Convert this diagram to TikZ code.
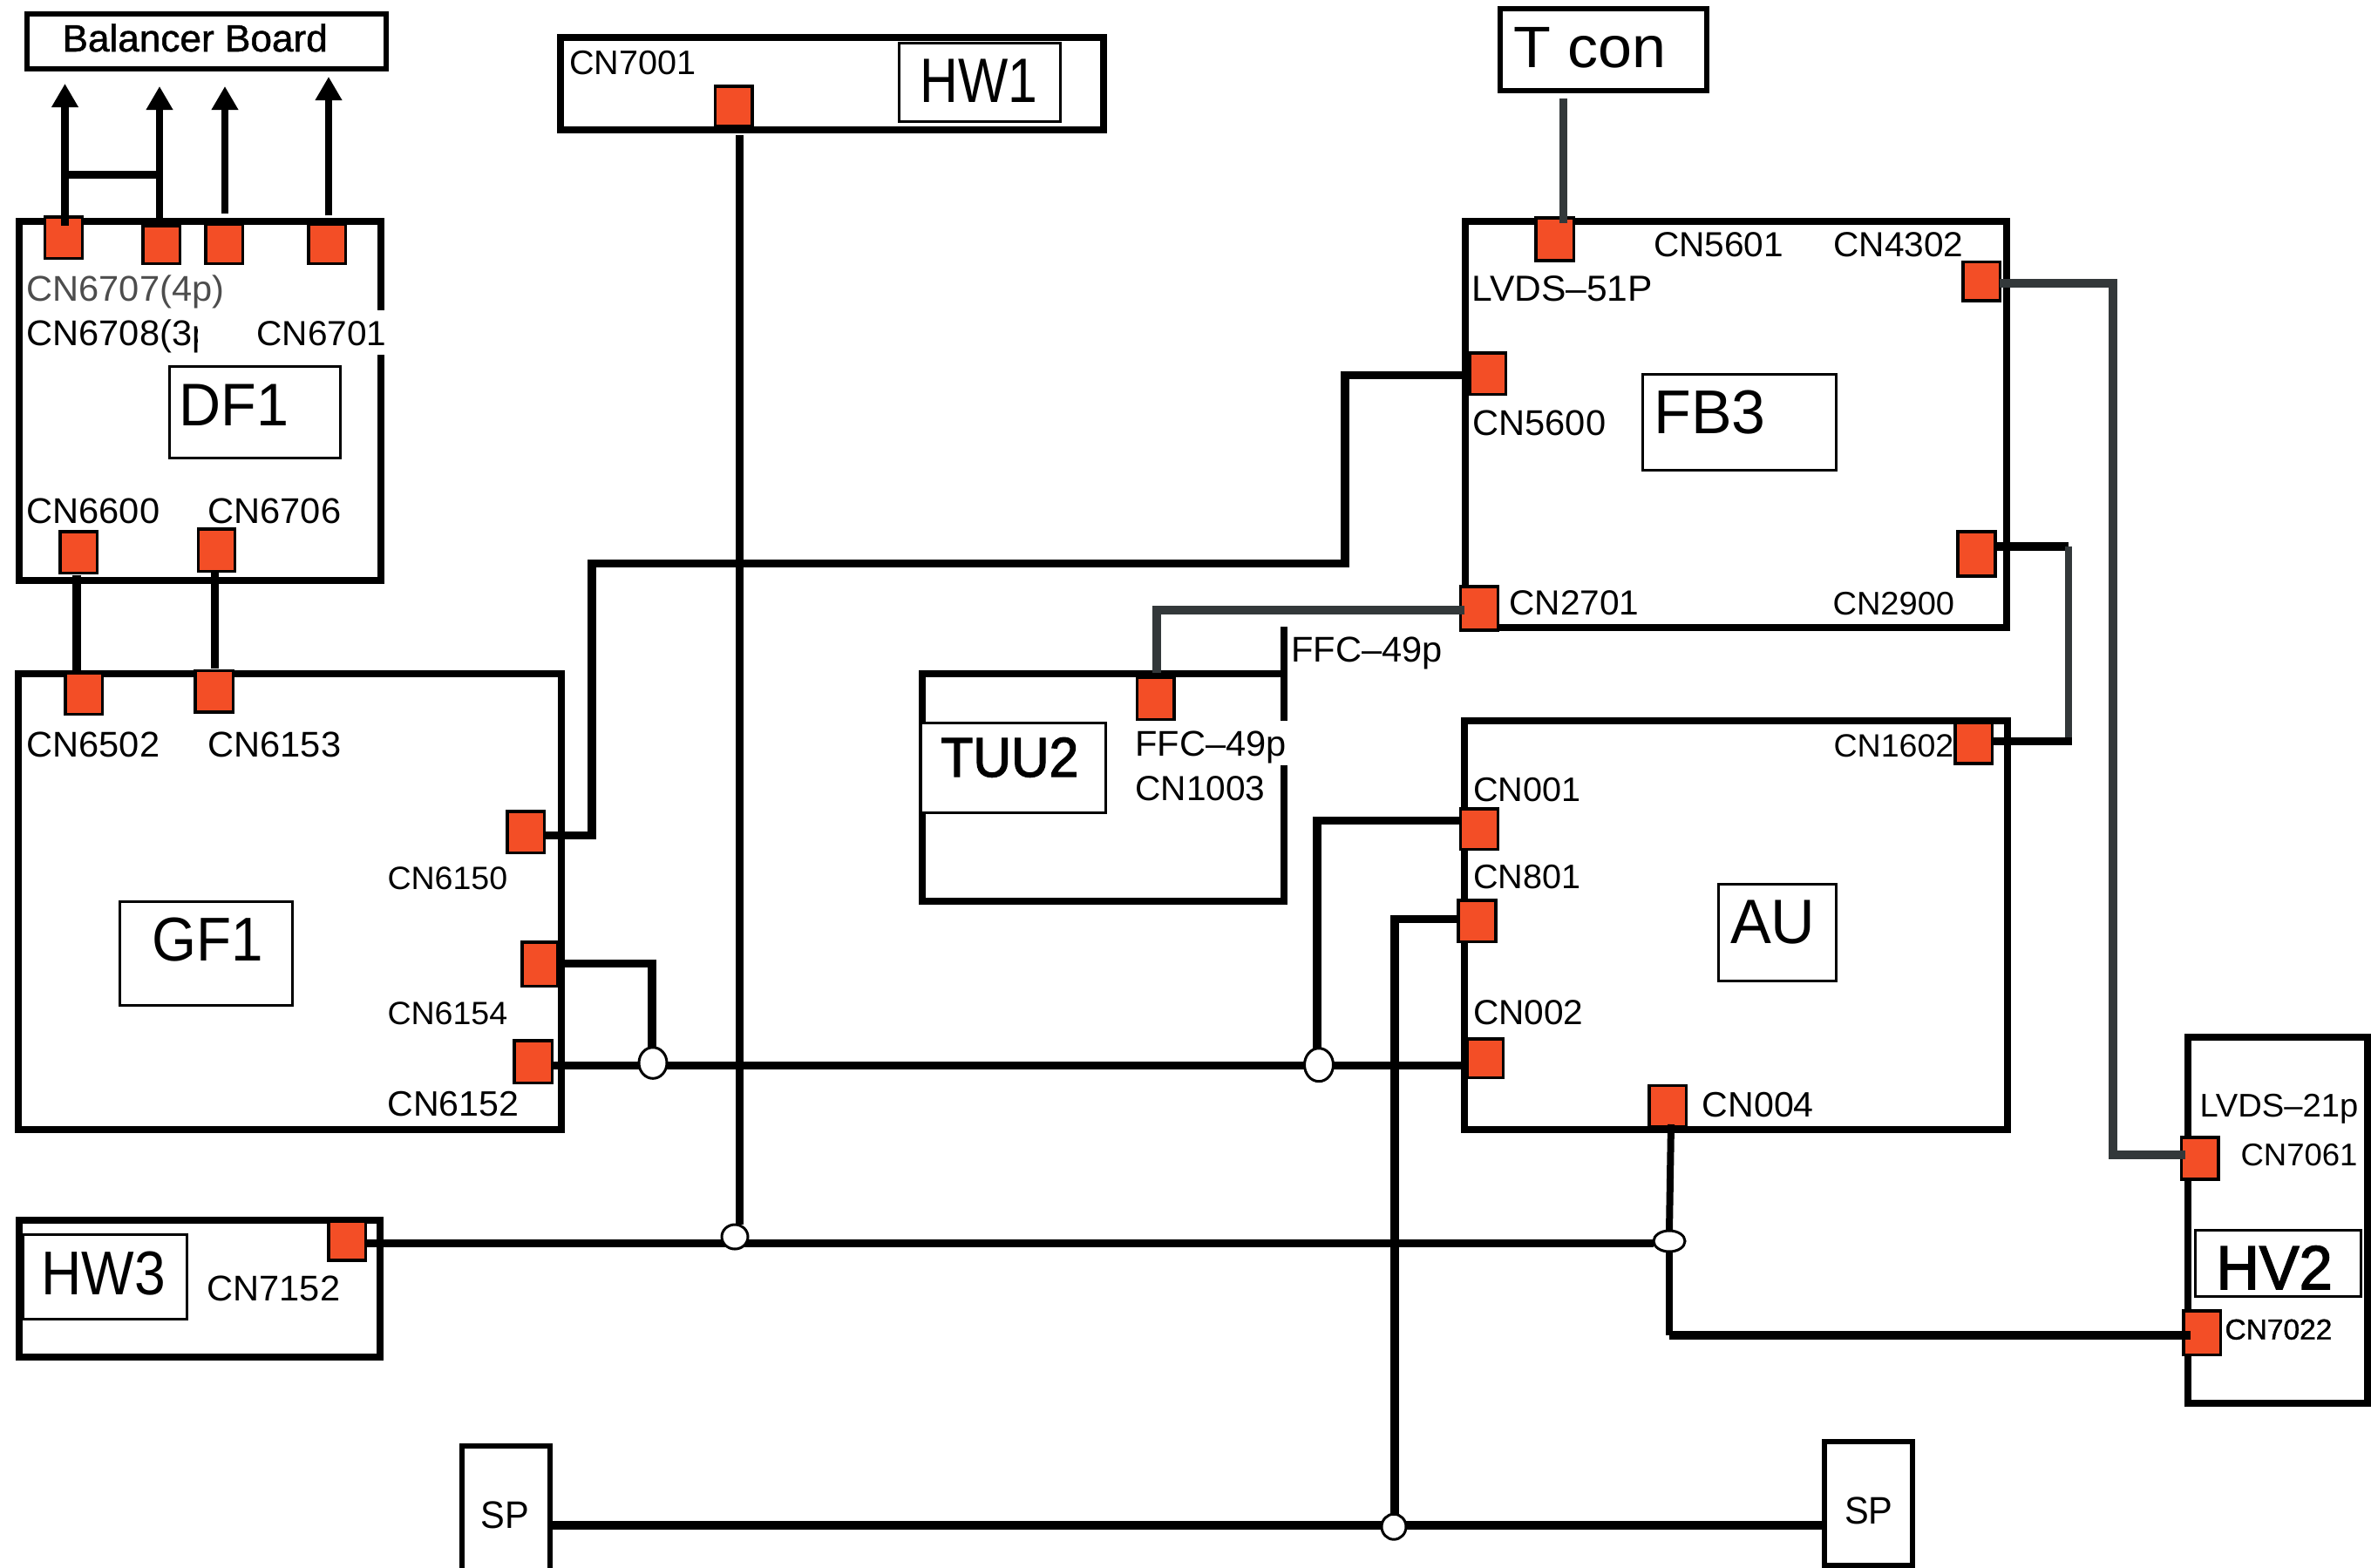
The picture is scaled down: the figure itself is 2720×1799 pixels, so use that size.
\documentclass[tikz,border=0pt]{standalone}
\usepackage{fontspec}
\setmainfont{Liberation Sans}
\newfontfamily\medf[FakeBold=1.2]{Liberation Sans}
\newfontfamily\heavyf[FakeBold=2.2]{Liberation Sans}
\usetikzlibrary{arrows.meta,shapes.geometric}
\pgfdeclarelayer{under}
\pgfdeclarelayer{fg}
\pgfsetlayers{under,main,fg}
\definecolor{conn}{HTML}{F34E26}
\definecolor{gw}{HTML}{33383A}
\definecolor{gt}{HTML}{4D4D4D}
\newcommand\boxn[6]{\node[#1,minimum width={#5-#3},minimum height={#6-#4}] (#2) at ({(#3+#5)/2},{(#4+#6)/2}) {};}
\newcommand\sqn[5]{\node[sqr,minimum width={#4-#2-3.5},minimum height={#5-#3-3.5}] (#1) at ({(#2+#4)/2},{(#3+#5)/2}) {};}
\newcommand\lbl[6][1]{\node[txt,font=\fontsize{#5}{#5}\selectfont] (#2) at ({#3+1.5},#4) {\scalebox{\fpeval{#1*1.015}}[1]{#6}};}
\newcommand\jn[5]{\node[jnc,minimum width=#4,minimum height=#5] (#1) at (#2,#3) {};}
\tikzset{
  board/.style={draw=black,line width=8pt,inner sep=0pt,outer sep=0pt,rectangle},
  thinbox/.style={draw=black,line width=6pt,inner sep=0pt,outer sep=0pt,rectangle},
  tag/.style={draw=black,fill=white,line width=3pt,inner sep=0pt,outer sep=0pt,rectangle},
  sqr/.style={draw=black,fill=conn,line width=3.5pt,inner sep=0pt,outer sep=0pt,rectangle},
  txt/.style={anchor=base west,inner sep=0pt,outer sep=0pt},
  jnc/.style={draw=black,fill=white,line width=3pt,inner sep=0pt,outer sep=0pt,ellipse},
  wire/.style={draw=black,line width=9.5pt},
  gwire/.style={draw=gw,line width=10pt},
  arr/.style={draw=black,line width=8.5pt,-{Triangle[width=29pt,length=27pt]}}
}
\begin{document}
\begin{tikzpicture}[x=1pt,y=-1pt]
\useasboundingbox (0,0) rectangle (2720,1799);
\begin{pgfonlayer}{under}
\fill[white] (0,0) rectangle (2720,1799);
% boards
\boxn{thinbox}{bal}{31}{16}{443}{79}
\boxn{board}{df}{21.5}{254}{436.5}{665.5}
\boxn{board}{gf}{21}{773}{644}{1295.5}
\boxn{board}{hwa}{643}{43}{1265.6}{148.7}
\boxn{board}{hwc}{21.5}{1400}{435.5}{1556.5}
\boxn{thinbox}{tc}{1721}{10}{1958}{103.5}
\boxn{board}{fb}{1681}{253.5}{2302}{720}
\boxn{board}{au}{1680}{827}{2302.7}{1296}
\boxn{board}{tu}{1058}{773}{1473}{1034}
\boxn{board}{hv}{2510}{1190}{2716}{1610}
\boxn{thinbox}{spl}{529.5}{1659}{631}{1803}
\boxn{thinbox}{spr}{2093}{1654}{2194}{1796}
\coordinate (tustub) at (1473,719);
\draw[line width=8pt] (tu.north east) -- (tustub);
\fill[white] (1465,827) rectangle (1480,878);
% name tags
\boxn{tag}{dfn}{194}{420.5}{390}{525.5}
\boxn{tag}{gfn}{137}{1034}{335}{1153}
\boxn{tag}{hwan}{1031.7}{49}{1216}{139.3}
\boxn{tag}{hwcn}{26}{1416.7}{214}{1513}
\boxn{tag}{fbn}{1884.4}{429.5}{2106}{539.5}
\boxn{tag}{aun}{1971}{1014}{2106}{1125}
\boxn{tag}{tun}{1056}{829}{1268}{932}
\boxn{tag}{hvn}{2518}{1411}{2708}{1487.7}
% connectors
\sqn{sa}{49.5}{247}{96}{298}
\sqn{sb}{162}{257}{208}{304}
\sqn{sc}{234}{255}{280}{304}
\sqn{sd}{352}{255}{398}{304}
\sqn{se}{67}{608}{113}{659}
\sqn{sf}{225.5}{605}{271}{657}
\sqn{sg}{73}{770.6}{119}{821}
\sqn{sh}{222}{767.5}{269}{818.5}
\sqn{si}{580}{929}{626}{980}
\sqn{sj}{597}{1079}{641}{1133}
\sqn{sk}{588}{1192}{635}{1244}
\sqn{sl}{818.7}{97}{864.7}{146}
\sqn{sm}{375}{1399}{421}{1447.7}
\sqn{sn}{1302.5}{775}{1348.5}{827}
\sqn{so}{1760.4}{248}{1807}{300.5}
\sqn{sp}{2250}{298.6}{2296}{346.6}
\sqn{sq}{1684}{403}{1729}{454}
\sqn{sr}{2244}{608}{2290.5}{662.6}
\sqn{ss}{1673.7}{671}{1720}{724.7}
\sqn{st}{2241}{827.6}{2287}{877.6}
\sqn{su}{1673.6}{926}{1720}{976.4}
\sqn{sv}{1671}{1031}{1717.5}{1082}
\sqn{sw}{1681}{1190}{1726}{1238}
\sqn{sx}{1890}{1243.5}{1936.4}{1294}
\sqn{sy}{2500.7}{1303}{2546.7}{1354.7}
\sqn{sz}{2503}{1502}{2549}{1556}
\end{pgfonlayer}
% junctions
\begin{pgfonlayer}{fg}
\jn{ja}{843}{1419}{30}{28}
\jn{jb}{749}{1219.5}{32}{35.6}
\jn{jc}{1915}{1424}{36}{24}
\jn{jd}{1513}{1221.7}{33}{38}
\jn{je}{1599}{1751.7}{28}{29}
\end{pgfonlayer}
% bend and free-end points
\coordinate (ta) at (74.5,96);
\coordinate (tb) at (183,99);
\coordinate (tc1) at (258,99);
\coordinate (td) at (377,88);
\coordinate (hl) at (0,200.5);
\coordinate (ka) at (88,660);
\coordinate (kb) at (246.5,655);
\coordinate (ma) at (679,958.5);
\coordinate (mb) at (679,646.7);
\coordinate (mc) at (1543,646.7);
\coordinate (md) at (1543,430.4);
\coordinate (fa) at (1327,700);
\coordinate (pa) at (2424,325);
\coordinate (pb) at (2424,1324.7);
\coordinate (qa) at (2372.6,626.8);
\coordinate (qb) at (2372.6,850.4);
\coordinate (aa) at (748,1105.5);
\coordinate (rr) at (0,1222.7);
\coordinate (ba) at (1511,941.5);
\coordinate (da) at (1600,1054.5);
\coordinate (ee) at (0,1750);
\coordinate (ha) at (848.7,155);
\coordinate (hb) at (0,1426.7);
\coordinate (ga) at (1917,1290);
\coordinate (gb) at (1915,1532);
\coordinate (tcw) at (1793.6,113);
% wires
\draw[arr] ([yshift=-10pt]ta |- sa.north) -- (ta);
\draw[arr] ([yshift=7pt]tb |- sb.north) -- (tb);
\draw[arr,line width=8pt] ([yshift=12pt]tc1 |- sc.north) -- (tc1);
\draw[arr,line width=8pt] ([yshift=9.5pt]td |- sd.north) -- (td);
\draw[wire] (ta |- hl) -- (tb |- hl);
\draw[wire] (ka) -- (ka |- sg.north);
\draw[wire] (kb) -- ([yshift=2pt]kb |- sh.north);
\draw[wire] (si.east |- ma) -- (ma) -- (mb) -- (mc) -- (md) -- ([xshift=-6pt]sq.west |- md);
\draw[gwire] ([xshift=5pt]ss.west |- fa) -- (fa) -- ([yshift=5pt]fa |- sn.north);
\draw[gwire] (sp.east |- pa) -- (pa) -- (pb) -- ([xshift=5pt]sy.west |- pb);
\draw[wire] (sr.east |- qa) -- (qa);
\draw[draw=gw,line width=8pt] (qa) -- (qb);
\draw[wire] (st.east |- qb) -- ([xshift=4pt]qb);
\draw[wire] (sj.east |- aa) -- (aa) -- (aa |- jb.north);
\draw[wire] (sk.east |- rr) -- ([xshift=-5pt]sw.west |- rr);
\draw[wire] (su.west |- ba) -- (ba) -- (ba |- jd.north);
\draw[wire] (sv.west |- da) -- (da) -- (da |- je.north);
\draw[wire] (spl.east |- ee) -- (spr.west |- ee);
\draw[wire] (ha) -- (ha |- ja.north);
\draw[wire] (sm.east |- hb) -- (jc.west |- hb);
\draw[wire,line width=8pt] (ga) -- (jc.north);
\draw[wire,line width=8pt] (jc.south) -- (gb);
\draw[wire] (gb) -- ([xshift=8pt]sz.west |- gb);
\draw[gwire,line width=9pt] (tcw) -- ([yshift=-6.5pt]tcw |- so.north);
% labels
\begin{pgfonlayer}{fg}
\lbl[1.0]{tbal}{70}{59}{43.5}{\medf Balancer Board}
\lbl{t6707}{29}{345}{41}{\textcolor{gt}{CN6707(4p)}}
\lbl{t6708}{29}{396}{41}{CN6708(3p}
\fill[white] (227,356) rectangle (445,407);
\lbl{t6701}{293}{396}{40}{CN6701}
\lbl{t6600}{29}{600}{41}{CN6600}
\lbl{t6706}{237}{600}{41}{CN6706}
\lbl[.95]{ndf}{204}{488}{69}{DF1}
\lbl{t6502}{29}{868}{41}{CN6502}
\lbl{t6153}{237}{868}{41}{CN6153}
\lbl{t6150}{443}{1020}{37}{CN6150}
\lbl{t6154}{443}{1175.5}{37}{CN6154}
\lbl{t6152}{443}{1280}{40.5}{CN6152}
\lbl[.91]{ngf}{173}{1102}{71}{GF1}
\lbl{t7001}{651.5}{85.7}{39}{CN7001}
\lbl[.83]{nhwa}{1054}{117}{72}{HW1}
\lbl{t7152}{236}{1492.7}{41}{CN7152}
\lbl[.89]{nhwc}{46}{1485}{71}{HW3}
\lbl[.93]{tspl}{550}{1753}{44}{SP}
\lbl[.93]{tspr}{2114.5}{1748}{44}{SP}
\lbl[.93]{ntu}{1078}{891}{64}{\heavyf TUU2}
\lbl{tffa}{1480}{759}{41}{FFC–49p}
\lbl{tffb}{1301}{867.7}{41}{FFC–49p}
\lbl{t1003}{1301}{918}{40}{CN1003}
\lbl[1.03]{ntc}{1735}{77.5}{67}{T con}
\lbl{t5601}{1895.5}{294}{40}{CN5601}
\lbl{t4302}{2102}{294}{40}{CN4302}
\lbl[1.01]{tlv}{1687}{345.6}{41.5}{LVDS–51P}
\lbl{t5600}{1688}{499}{41}{CN5600}
\lbl{t2701}{1730}{705}{40}{CN2701}
\lbl{t2900}{2101}{705}{37.5}{CN2900}
\lbl[.97]{nfb}{1896}{497}{71}{FB3}
\lbl{t1602}{2102}{868}{37}{CN1602}
\lbl{t001}{1688.6}{919}{39}{CN001}
\lbl{t801}{1688.6}{1019.6}{39}{CN801}
\lbl{t002}{1688.6}{1175.7}{40}{CN002}
\lbl{t004}{1951.4}{1281}{40.5}{CN004}
\lbl[.96]{nau}{1983.6}{1082}{72}{AU}
\lbl{tlw}{2522}{1281}{37.6}{LVDS–21p}
\lbl{t7061}{2569}{1337}{36}{CN7061}
\lbl[.95]{nhv}{2541}{1479}{71}{\heavyf HV2}
\lbl{t7022}{2551}{1536.7}{33}{\medf CN7022}
\end{pgfonlayer}
\end{tikzpicture}
\end{document}
